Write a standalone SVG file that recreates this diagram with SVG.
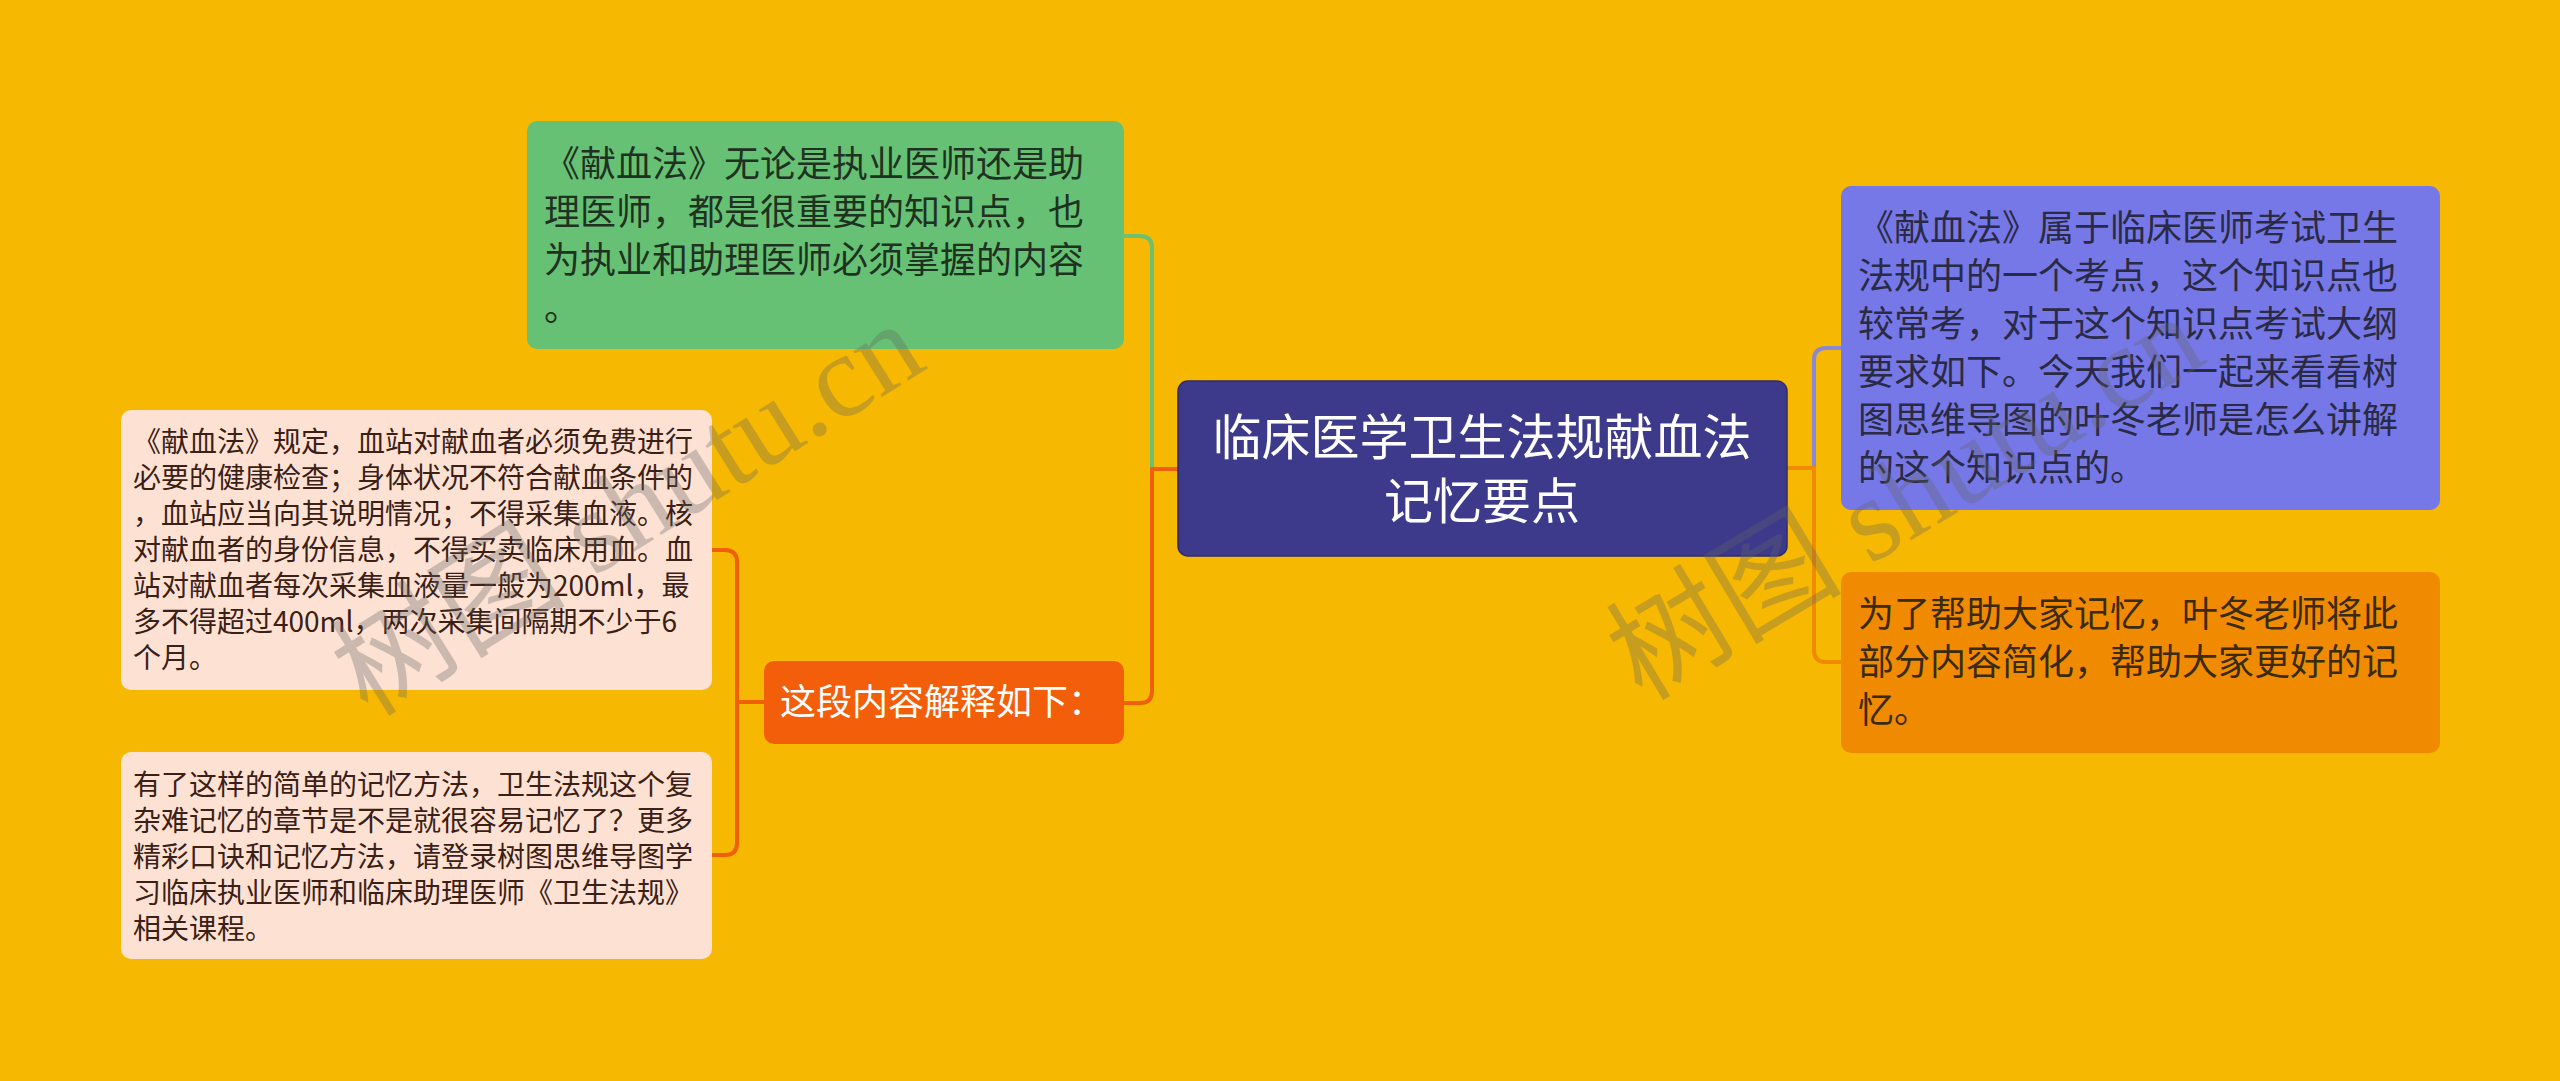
<svg xmlns="http://www.w3.org/2000/svg" width="2560" height="1081" viewBox="0 0 2560 1081">
<style>
.t{font-family:"Noto Sans CJK SC","Noto Sans",sans-serif;}
.wm{font-family:"Liberation Serif","Noto Sans CJK SC",serif;font-size:118px;fill:#646464;fill-opacity:0.32;}
.c{fill:none;stroke-width:4;stroke-linecap:round;stroke-linejoin:round;}
</style>
<rect x="0" y="0" width="2560" height="1081" fill="#F6B800"/>
<g id="connectors">
<path class="c" stroke="#6CC070" d="M1152 469 V248 Q1152 236 1140 236 H1124"/>
<path class="c" stroke="#F0600A" d="M1178 469 H1152 V691 Q1152 703 1140 703 H1124"/>
<path class="c" stroke="#F0600A" d="M764 702 H737 M737 702 V562 Q737 550 725 550 H712 M737 702 V843 Q737 855 725 855 H712"/>
<path class="c" stroke="#8A87D8" d="M1814 468 V360 Q1814 348 1826 348 H1841"/>
<path class="c" stroke="#F08A00" d="M1787 468 H1814 V650 Q1814 662 1826 662 H1841"/>
</g>
<g id="root">
<rect x="1178" y="381" width="609" height="175" rx="10" fill="#3D3A8C" stroke="#2E2B6C" stroke-width="1.5"/>
<text class="t" font-size="49" fill="#FFFFFF" text-anchor="middle"><tspan x="1482" y="455">临床医学卫生法规献血法</tspan><tspan x="1482" y="519">记忆要点</tspan></text>
</g>
<g id="n-green">
<rect x="527" y="121" width="597" height="228" rx="10" fill="#66C174"/>
<text class="t" font-size="36" fill="#1F3222"><tspan x="544" y="177">《献血法》无论是执业医师还是助</tspan><tspan x="544" y="225">理医师，都是很重要的知识点，也</tspan><tspan x="544" y="273">为执业和助理医师必须掌握的内容</tspan><tspan x="544" y="321">。</tspan></text>
</g>
<g id="n-explain">
<rect x="764" y="661" width="360" height="83" rx="10" fill="#F25E0A"/>
<text class="t" font-size="36" fill="#FFFFFF" x="780" y="715">这段内容解释如下：</text>
</g>
<g id="n-pink1">
<rect x="121" y="410" width="591" height="280" rx="10" fill="#FDE2D3"/>
<text class="t" font-size="28" fill="#3A2016"><tspan x="133" y="452">《献血法》规定，血站对献血者必须免费进行</tspan><tspan x="133" y="488">必要的健康检查；身体状况不符合献血条件的</tspan><tspan x="133" y="524">，血站应当向其说明情况；不得采集血液。核</tspan><tspan x="133" y="560">对献血者的身份信息，不得买卖临床用血。血</tspan><tspan x="133" y="596">站对献血者每次采集血液量一般为200ml，最</tspan><tspan x="133" y="632">多不得超过400ml，两次采集间隔期不少于6</tspan><tspan x="133" y="668">个月。</tspan></text>
</g>
<g id="n-pink2">
<rect x="121" y="752" width="591" height="207" rx="10" fill="#FDE2D3"/>
<text class="t" font-size="28" fill="#3A2016"><tspan x="133" y="795">有了这样的简单的记忆方法，卫生法规这个复</tspan><tspan x="133" y="831">杂难记忆的章节是不是就很容易记忆了？更多</tspan><tspan x="133" y="867">精彩口诀和记忆方法，请登录树图思维导图学</tspan><tspan x="133" y="903">习临床执业医师和临床助理医师《卫生法规》</tspan><tspan x="133" y="939">相关课程。</tspan></text>
</g>
<g id="n-purple">
<rect x="1841" y="186" width="599" height="324" rx="10" fill="#7678E8"/>
<text class="t" font-size="36" fill="#2A2A44"><tspan x="1858" y="241">《献血法》属于临床医师考试卫生</tspan><tspan x="1858" y="289">法规中的一个考点，这个知识点也</tspan><tspan x="1858" y="337">较常考，对于这个知识点考试大纲</tspan><tspan x="1858" y="385">要求如下。今天我们一起来看看树</tspan><tspan x="1858" y="433">图思维导图的叶冬老师是怎么讲解</tspan><tspan x="1858" y="481">的这个知识点的。</tspan></text>
</g>
<g id="n-orange">
<rect x="1841" y="572" width="599" height="181" rx="10" fill="#F08A00"/>
<text class="t" font-size="36" fill="#3A2A10"><tspan x="1858" y="627">为了帮助大家记忆，叶冬老师将此</tspan><tspan x="1858" y="675">部分内容简化，帮助大家更好的记</tspan><tspan x="1858" y="723">忆。</tspan></text>
</g>
<g id="watermarks">
<text class="wm" transform="translate(368 718) rotate(-32)">树图 shutu.cn</text>
<text class="wm" transform="translate(1642 702) rotate(-31)">树图 shutu.cn</text>
</g>
</svg>
